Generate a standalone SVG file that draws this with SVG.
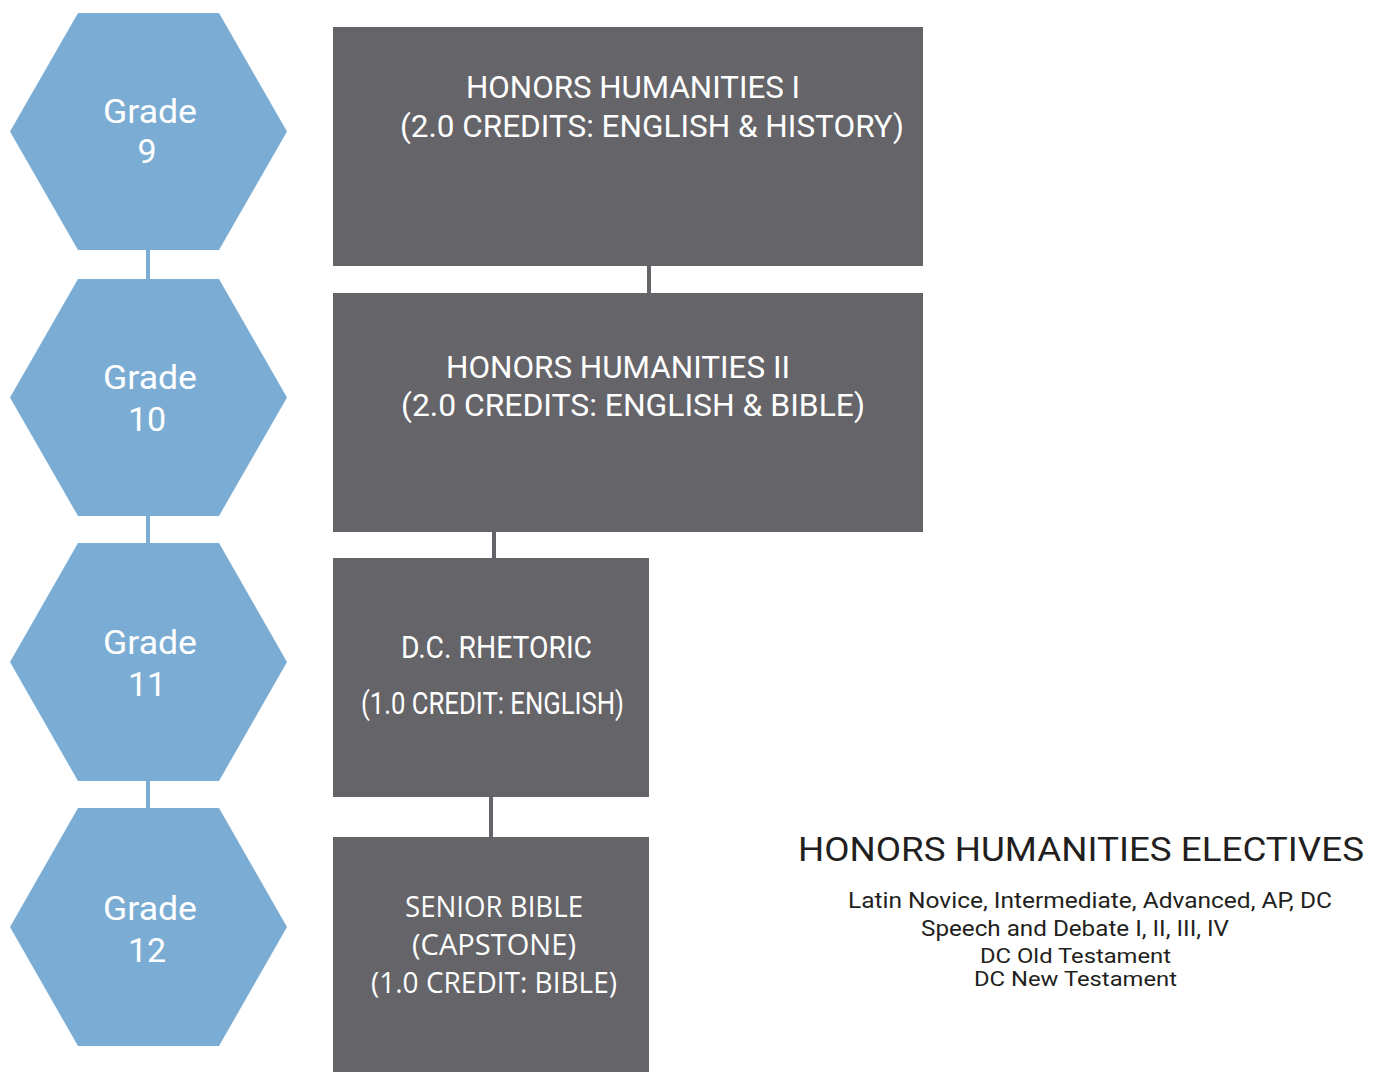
<svg xmlns="http://www.w3.org/2000/svg" width="1382" height="1072" viewBox="0 0 1382 1072">
<style>
.hex{fill:#7badd4}
.box{fill:#646469}
.hl{stroke:#7badd4;stroke-width:4}
.bl{stroke:#646469;stroke-width:4}
.gt{font-family:Roboto,"Liberation Sans",sans-serif;font-size:34px;fill:#ffffff;text-anchor:middle}
.bt{font-family:Roboto,"Liberation Sans",sans-serif;font-size:31px;fill:#ffffff}
.bt4{font-family:"Open Sans","Liberation Sans",sans-serif;font-size:29px;fill:#ffffff}
.et{font-family:Roboto,"Liberation Sans",sans-serif;fill:#231f20}
</style>
<rect width="1382" height="1072" fill="#ffffff"/>
<g id="connectors">
<line class="hl" x1="148" y1="248" x2="148" y2="281"/>
<line class="hl" x1="148" y1="514" x2="148" y2="545"/>
<line class="hl" x1="148" y1="779" x2="148" y2="810"/>
<line class="bl" x1="649" y1="265" x2="649" y2="294"/>
<line class="bl" x1="494" y1="531" x2="494" y2="559"/>
<line class="bl" x1="491" y1="796" x2="491" y2="838"/>
</g>
<g id="grade9">
<polygon class="hex" points="78,13 219,13 287,131.5 219,250 78,250 10,131.5"/>
<text class="gt" x="150" y="123" textLength="94" lengthAdjust="spacingAndGlyphs">Grade</text>
<text class="gt" x="147" y="163">9</text>
</g>
<g id="grade10">
<polygon class="hex" points="78,279 219,279 287,397.5 219,516 78,516 10,397.5"/>
<text class="gt" x="150" y="389" textLength="94" lengthAdjust="spacingAndGlyphs">Grade</text>
<text class="gt" x="147" y="431">10</text>
</g>
<g id="grade11">
<polygon class="hex" points="78,543 219,543 287,662 219,781 78,781 10,662"/>
<text class="gt" x="150" y="654" textLength="94" lengthAdjust="spacingAndGlyphs">Grade</text>
<text class="gt" x="147" y="696">11</text>
</g>
<g id="grade12">
<polygon class="hex" points="78,808 219,808 287,927 219,1046 78,1046 10,927"/>
<text class="gt" x="150" y="920" textLength="94" lengthAdjust="spacingAndGlyphs">Grade</text>
<text class="gt" x="147" y="962">12</text>
</g>
<g id="hh1">
<rect class="box" x="333" y="27" width="590" height="239"/>
<text class="bt" x="466" y="98" textLength="334" lengthAdjust="spacingAndGlyphs">HONORS HUMANITIES I</text>
<text class="bt" x="400" y="137" textLength="504" lengthAdjust="spacingAndGlyphs">(2.0 CREDITS: ENGLISH &amp; HISTORY)</text>
</g>
<g id="hh2">
<rect class="box" x="333" y="293" width="590" height="239"/>
<text class="bt" x="446" y="378" textLength="344" lengthAdjust="spacingAndGlyphs">HONORS HUMANITIES II</text>
<text class="bt" x="401" y="416" textLength="464" lengthAdjust="spacingAndGlyphs">(2.0 CREDITS: ENGLISH &amp; BIBLE)</text>
</g>
<g id="rhetoric">
<rect class="box" x="333" y="558" width="316" height="239"/>
<text class="bt" x="401" y="658" textLength="191" lengthAdjust="spacingAndGlyphs">D.C. RHETORIC</text>
<text class="bt" x="361" y="714" font-size="28" textLength="263" lengthAdjust="spacingAndGlyphs">(1.0 CREDIT: ENGLISH)</text>
</g>
<g id="seniorbible">
<rect class="box" x="333" y="837" width="316" height="240"/>
<text class="bt4" x="405" y="917" textLength="178" lengthAdjust="spacingAndGlyphs">SENIOR BIBLE</text>
<text class="bt4" x="412" y="955" textLength="164" lengthAdjust="spacingAndGlyphs">(CAPSTONE)</text>
<text class="bt4" x="371" y="993" textLength="246" lengthAdjust="spacingAndGlyphs">(1.0 CREDIT: BIBLE)</text>
</g>
<g id="electives">
<text class="et" x="798" y="861" font-size="33" textLength="566" lengthAdjust="spacingAndGlyphs">HONORS HUMANITIES ELECTIVES</text>
<text class="et" x="848" y="908" font-size="22" textLength="484" lengthAdjust="spacingAndGlyphs">Latin Novice, Intermediate, Advanced, AP, DC</text>
<text class="et" x="921" y="936" font-size="22" textLength="308" lengthAdjust="spacingAndGlyphs">Speech and Debate I, II, III, IV</text>
<text class="et" x="980" y="963" font-size="21" textLength="191" lengthAdjust="spacingAndGlyphs">DC Old Testament</text>
<text class="et" x="974" y="986" font-size="21" textLength="203" lengthAdjust="spacingAndGlyphs">DC New Testament</text>
</g>
</svg>
